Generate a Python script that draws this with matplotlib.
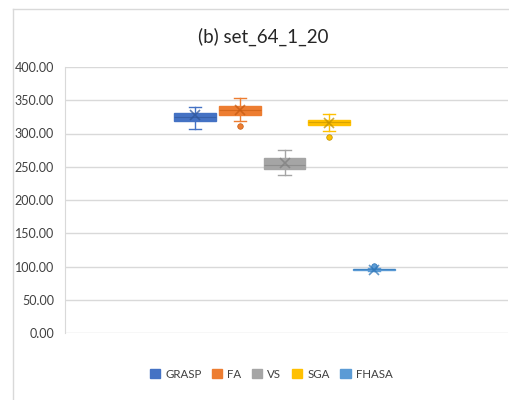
import matplotlib
matplotlib.use("Agg")
import matplotlib.pyplot as plt
from matplotlib.patches import Patch
from matplotlib.lines import Line2D

plt.rcParams['font.family'] = ['Lato', 'DejaVu Sans']

names = ["GRASP", "FA", "VS", "SGA", "FHASA"]
q1 = [319.2, 327.3, 246.2, 312.3, 94.6]
med = [325.3, 334.9, 252.6, 317.3, 95.8]
q3 = [331.3, 340.9, 263.2, 320.8, 96.4]
whislo = [306.3, 318.4, 237.1, 303.3, 93.8]
whishi = [340.3, 353.4, 274.7, 329.3, 97.6]
means = [327.8, 335.0, 255.2, 315.8, 94.7]
fliers = [[], [311.3], [], [294.3], [100.8]]
colors = ["#4472C4", "#ED7D31", "#A5A5A5", "#FFC000", "#5B9BD5"]
dark = ["#2F5597", "#C55A11", "#7F7F7F", "#BF9000", "#2E75B6"]
yticks = [0, 50, 100, 150, 200, 250, 300, 350, 400]

fig = plt.figure(figsize=(5.1, 4.0), dpi=100)
ax = fig.add_axes([65/510, 1-333/400, (508-65)/510, (333-67)/400])

for i in range(len(names)):
    st = dict(med=med[i], q1=q1[i], q3=q3[i], whislo=whislo[i], whishi=whishi[i],
              mean=means[i], fliers=fliers[i], label=names[i])
    ax.bxp([st], positions=[i + 1], widths=0.935, showmeans=True, patch_artist=True,
           capwidths=0.27,
           boxprops=dict(facecolor=colors[i], edgecolor=colors[i], linewidth=1.0),
           medianprops=dict(color=dark[i], linewidth=0.8, alpha=0.6),
           whiskerprops=dict(color=colors[i], linewidth=1.0),
           capprops=dict(color=colors[i], linewidth=1.0),
           meanprops=dict(marker='x', markersize=7, markeredgecolor=dark[i],
                          markeredgewidth=1.2, alpha=0.75),
           flierprops=dict(marker='o', markersize=4, markerfacecolor=colors[i],
                           markeredgecolor=dark[i], markeredgewidth=0.5))

ax.set_xlim(1 - 0.4675 - 109/44.9, 5 + 0.4675 + 113/44.9)
ax.set_ylim(0, 400)
ax.set_yticks(yticks)
ax.set_yticklabels([f"{v:.2f}" for v in yticks])
ax.set_xticks([])
ax.yaxis.grid(True, color="#D9D9D9", linewidth=1)
ax.set_axisbelow(True)
for s in ["top", "right", "bottom"]:
    ax.spines[s].set_visible(False)
ax.spines["left"].set_color("#D9D9D9")
ax.tick_params(axis='y', length=0, pad=8, labelsize=9, labelcolor="#404040")

fig.text(263/510, 1-37/400, "(b) set_64_1_20", ha='center', va='center',
         fontsize=13.5, color="#262626")

handles = [Patch(facecolor=c, edgecolor=c) for c in colors]
fig.legend(handles, names, loc='center', bbox_to_anchor=(271/510, 26/400), ncol=5,
           frameon=False, fontsize=8.3, handlelength=0.9, handleheight=0.9,
           columnspacing=0.9, handletextpad=0.45, labelcolor="#404040")

fig.add_artist(Line2D([13/510, 13/510], [0, 1-9/400], transform=fig.transFigure,
                      color="#D9D9D9", linewidth=1))
fig.add_artist(Line2D([13/510, 1], [1-9/400, 1-9/400], transform=fig.transFigure,
                      color="#D9D9D9", linewidth=1))

fig.savefig("out.png", dpi=100)
